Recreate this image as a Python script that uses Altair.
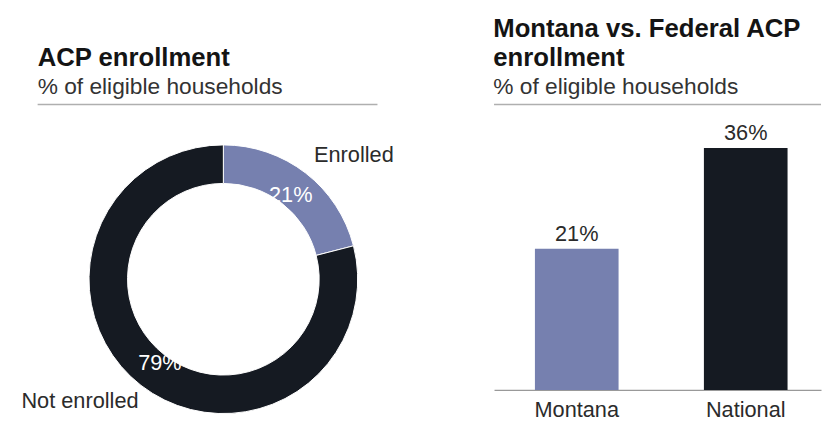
import altair as alt
import pandas as pd

# ---- data ----
donut_categories = ["Enrolled", "Not enrolled"]
donut_values = [21, 79]
donut_order = [1, 2]

bar_categories = ["Montana", "National"]
bar_values = [21, 36]

BLUE = "#7680AF"
DARK = "#151A22"
FONT = "Liberation Sans"
TEXT = "#2b2b2b"

donut_df = pd.DataFrame({"category": donut_categories, "value": donut_values, "order": donut_order})
bar_df = pd.DataFrame({"region": bar_categories, "value": bar_values})

LW, LH = 400, 289
RW, RH = 331, 289
CX, CY = 218, 177

title_common = dict(
    anchor="start",
    font=FONT,
    fontSize=26,
    fontWeight="bold",
    color="#141414",
    lineHeight=29,
    subtitleFont=FONT,
    subtitleFontSize=23,
    subtitleColor="#333333",
    subtitlePadding=5,
    offset=5,
)

# ---- left: donut ----
donut_base = alt.Chart(donut_df).encode(
    theta=alt.Theta("value:Q", stack=True),
    order=alt.Order("order:Q"),
    x=alt.value(CX),
    y=alt.value(CY),
)
arc = donut_base.mark_arc(outerRadius=136, innerRadius=97, stroke="white", strokeWidth=1).encode(
    color=alt.Color("category:N", scale=alt.Scale(domain=donut_categories, range=[BLUE, DARK]), legend=None)
)
pct = donut_base.transform_calculate(lbl="datum.value + '%'").mark_text(
    radius=108, dx=2, dy=0, font=FONT, fontSize=22, color="white", align="center", baseline="middle"
).encode(text="lbl:N")
lab_en = donut_base.transform_calculate(
    lbl="datum.category == 'Enrolled' ? datum.category : ''"
).mark_text(radius=165, dx=31, dy=5, font=FONT, fontSize=22, color=TEXT, align="center", baseline="middle").encode(
    text="lbl:N"
)
lab_not = donut_base.transform_calculate(
    lbl="datum.category == 'Not enrolled' ? datum.category : ''"
).mark_text(radius=165, dx=-44, dy=-7, font=FONT, fontSize=22, color=TEXT, align="center", baseline="middle").encode(
    text="lbl:N"
)
rule_l = alt.Chart(donut_df).transform_filter("datum.order == 1").mark_rule(
    color="#AFAFAF", strokeWidth=1.5
).encode(x=alt.value(30), x2=alt.value(374), y=alt.value(0))

left = alt.layer(rule_l, arc, pct, lab_en, lab_not).properties(
    width=LW,
    height=LH,
    title=alt.TitleParams(text=["", "ACP enrollment"], subtitle="% of eligible households", dx=30, **title_common),
)

# ---- right: bars ----
bar_base = alt.Chart(bar_df).encode(
    x=alt.X(
        "region:N",
        sort=bar_categories,
        scale=alt.Scale(paddingInner=0.505, paddingOuter=0.22, align=0.55),
        axis=alt.Axis(
            title=None, labelAngle=0, ticks=False, domainColor="#999999", domainWidth=1.5,
            labelFontSize=22, labelColor=TEXT, labelPadding=10, labelFont=FONT,
        ),
    ),
    y=alt.Y("value:Q", scale=alt.Scale(domain=[0, 42.5]), axis=None),
)
bars = bar_base.mark_bar().encode(
    color=alt.Color("region:N", scale=alt.Scale(domain=bar_categories, range=[BLUE, DARK]), legend=None)
)
bar_text = bar_base.transform_calculate(lbl="datum.value + '%'").mark_text(
    baseline="alphabetic", dy=-8, font=FONT, fontSize=22, color=TEXT
).encode(text="lbl:N")
rule_r = alt.Chart(bar_df).transform_filter("datum.region == 'Montana'").mark_rule(
    color="#AFAFAF", strokeWidth=1.5
).encode(x=alt.value(0), x2=alt.value(RW), y=alt.value(0))

right = alt.layer(rule_r, bars, bar_text).properties(
    width=RW,
    height=RH,
    title=alt.TitleParams(text=["Montana vs. Federal ACP", "enrollment"], subtitle="% of eligible households", **title_common),
)

chart = (
    alt.hconcat(left, right, spacing=91)
    .properties(padding={"left": 0, "top": 6, "right": 0, "bottom": 0})
    .configure_view(stroke=None)
)

chart.save("out.html", embed_options={"renderer": "svg", "actions": False})
